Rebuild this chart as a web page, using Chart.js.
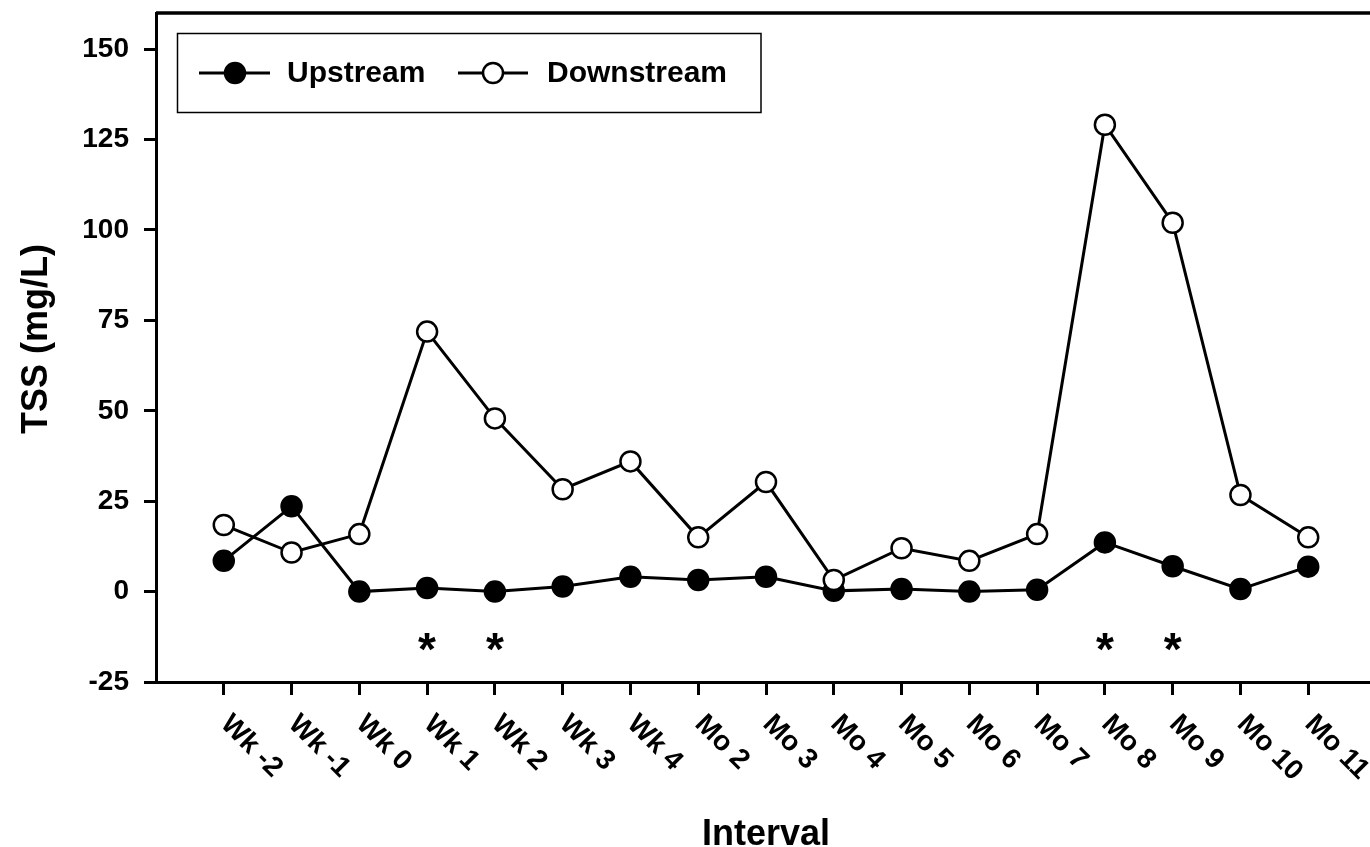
<!DOCTYPE html>
<html>
<head>
<meta charset="utf-8">
<script src="https://cdn.jsdelivr.net/npm/chart.js@4.4.1/dist/chart.umd.min.js"></script>
<style>
  html, body { margin: 0; padding: 0; background: #fff; overflow: hidden; }
  #wrap { width: 1390px; height: 847px; }
</style>
</head>
<body>
<div id="wrap"><canvas id="c" width="1390" height="847"></canvas></div>
<script>
// Sampling intervals
const categories = ['Wk -2', 'Wk -1', 'Wk 0', 'Wk 1', 'Wk 2', 'Wk 3', 'Wk 4',
  'Mo 2', 'Mo 3', 'Mo 4', 'Mo 5', 'Mo 6', 'Mo 7', 'Mo 8', 'Mo 9', 'Mo 10', 'Mo 11'];

// Total suspended solids, mg/L
const upstream = [8.5, 23.6, 0, 1, 0, 1.4, 4.1, 3.2, 4.1, 0.2, 0.7, 0, 0.5, 13.6, 7, 0.7, 6.9];
const downstream = [18.4, 10.8, 15.9, 71.9, 47.9, 28.3, 36, 15, 30.3, 3.2, 12, 8.5, 15.9, 129.1, 102, 26.7, 15];

// Intervals marked as significantly different, and the level the marks sit at
const significant = ['Wk 1', 'Wk 2', 'Mo 8', 'Mo 9'];
const markLevel = -14;

// Y axis tick values
const yTicks = [-25, 0, 25, 50, 75, 100, 125, 150];

const FONT = '"Liberation Sans", Arial, Helvetica, sans-serif';

const toXY = arr => arr.map((v, i) => ({ x: i, y: v }));

// Top/right frame, rotated interval labels, significance marks, axis titles, legend
const decorations = {
  id: 'decorations',
  afterDraw(chart) {
    const { ctx, chartArea: a, scales: { x, y } } = chart;
    ctx.save();

    // frame
    ctx.strokeStyle = '#000';
    ctx.lineWidth = 3.5;
    ctx.beginPath();
    ctx.moveTo(a.left, a.top);
    ctx.lineTo(a.right, a.top);
    ctx.lineTo(a.right, a.bottom);
    ctx.stroke();

    // interval labels, slanted downward
    ctx.fillStyle = '#000';
    ctx.font = 'bold 28px ' + FONT;
    ctx.textAlign = 'left';
    ctx.textBaseline = 'top';
    categories.forEach((lab, i) => {
      const px = x.getPixelForValue(i);
      ctx.save();
      ctx.translate(px + 11, a.bottom + 28);
      ctx.rotate(Math.PI / 4);
      ctx.fillText(lab, 0, 0);
      ctx.restore();
    });

    // significance marks
    ctx.font = 'bold 46px ' + FONT;
    ctx.textBaseline = 'alphabetic';
    const m = ctx.measureText('*');
    const gw = m.actualBoundingBoxRight + m.actualBoundingBoxLeft;
    const gh = m.actualBoundingBoxAscent + m.actualBoundingBoxDescent;
    significant.forEach(lab => {
      const i = categories.indexOf(lab);
      const px = x.getPixelForValue(i);
      const py = y.getPixelForValue(markLevel);
      ctx.fillText('*', px - gw / 2 + m.actualBoundingBoxLeft, py + gh / 2 - m.actualBoundingBoxDescent);
    });

    // axis titles
    ctx.font = 'bold 36px ' + FONT;
    ctx.textAlign = 'center';
    ctx.textBaseline = 'alphabetic';
    ctx.fillText('Interval', (a.left + a.right) / 2, 845);
    ctx.save();
    ctx.translate(47, 339);
    ctx.rotate(-Math.PI / 2);
    ctx.fillText('TSS (mg/L)', 0, 0);
    ctx.restore();

    // legend box
    ctx.lineWidth = 1.5;
    ctx.strokeRect(177.5, 33.5, 583.5, 79);
    const items = [
      { ds: chart.data.datasets[0], x0: 199, x1: 270, cx: 235, tx: 287 },
      { ds: chart.data.datasets[1], x0: 458, x1: 528, cx: 493, tx: 547 }
    ];
    const ly = 73;
    items.forEach(it => {
      ctx.strokeStyle = '#000';
      ctx.lineWidth = 3;
      ctx.beginPath();
      ctx.moveTo(it.x0, ly);
      ctx.lineTo(it.x1, ly);
      ctx.stroke();
      ctx.beginPath();
      ctx.arc(it.cx, ly, it.ds.pointRadius, 0, Math.PI * 2);
      ctx.fillStyle = it.ds.pointBackgroundColor;
      ctx.fill();
      ctx.lineWidth = it.ds.pointBorderWidth;
      ctx.strokeStyle = it.ds.pointBorderColor;
      ctx.stroke();
      ctx.fillStyle = '#000';
      ctx.font = 'bold 30px ' + FONT;
      ctx.textAlign = 'left';
      ctx.textBaseline = 'middle';
      ctx.fillText(it.ds.label, it.tx, ly + 1);
    });

    ctx.restore();
  }
};

const noScalePadding = s => {
  s.paddingTop = 0;
  s.paddingBottom = 0;
  s.paddingLeft = 0;
  s.paddingRight = 0;
};

new Chart(document.getElementById('c'), {
  type: 'line',
  data: {
    datasets: [
      {
        label: 'Upstream',
        data: toXY(upstream),
        borderColor: '#000',
        borderWidth: 3,
        pointRadius: 10,
        pointBorderWidth: 2.5,
        pointBackgroundColor: '#000',
        pointBorderColor: '#000',
        order: 1
      },
      {
        label: 'Downstream',
        data: toXY(downstream),
        borderColor: '#000',
        borderWidth: 3,
        pointRadius: 10,
        pointBorderWidth: 2.5,
        pointBackgroundColor: '#fff',
        pointBorderColor: '#000',
        order: 0
      }
    ]
  },
  options: {
    responsive: false,
    devicePixelRatio: 1,
    animation: false,
    events: [],
    layout: { padding: { top: 13, right: 14, left: 0, bottom: 0 } },
    plugins: { legend: { display: false }, tooltip: { enabled: false } },
    scales: {
      x: {
        type: 'linear',
        min: -1,
        max: 17,
        afterBuildTicks: s => { s.ticks = categories.map((_, i) => ({ value: i })); },
        afterFit: s => { s.height = 165; noScalePadding(s); },
        ticks: { display: false },
        grid: { drawOnChartArea: false, drawTicks: true, tickLength: 13, tickWidth: 3, tickColor: '#000' },
        border: { display: true, color: '#000', width: 3 }
      },
      y: {
        type: 'linear',
        min: -25,
        max: 160,
        afterBuildTicks: s => { s.ticks = yTicks.map(v => ({ value: v })); },
        afterFit: s => { s.width = 156; noScalePadding(s); },
        ticks: {
          color: '#000',
          padding: 15,
          font: { family: FONT, size: 28, weight: 'bold' }
        },
        grid: { drawOnChartArea: false, drawTicks: true, tickLength: 12, tickWidth: 3, tickColor: '#000' },
        border: { display: true, color: '#000', width: 3 }
      }
    }
  },
  plugins: [decorations]
});
</script>
</body>
</html>
